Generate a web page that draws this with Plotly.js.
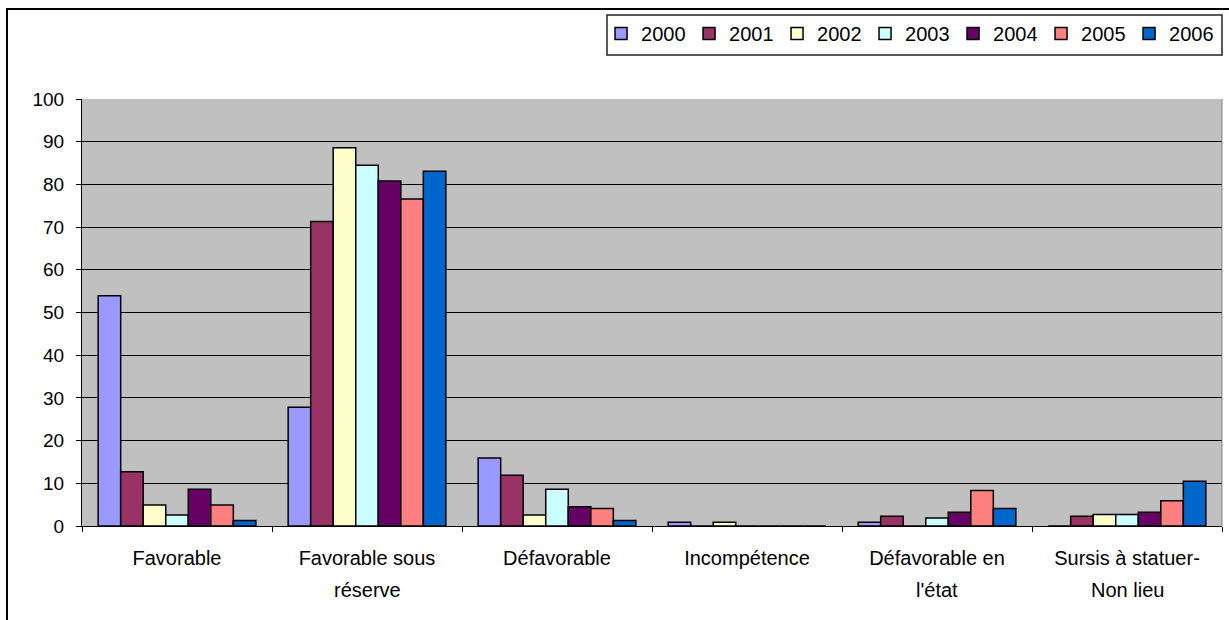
<!DOCTYPE html>
<html><head><meta charset="utf-8">
<script src="https://cdn.plot.ly/plotly-3.0.1.min.js"></script>
<style>html,body{margin:0;padding:0;background:#fff;}#chart{width:1229px;height:620px;}</style>
</head><body><div id="chart"></div>
<script>
const categories = ["Favorable", "Favorable sous réserve", "Défavorable", "Incompétence", "Défavorable en l'état", "Sursis à statuer-Non lieu"];
const labelLine1 = ["Favorable", "Favorable sous", "Défavorable", "Incompétence", "Défavorable en", "Sursis à statuer-"];
const labelLine2 = ["", "réserve", "", "", "l'état", "Non lieu"];
const years = ["2000", "2001", "2002", "2003", "2004", "2005", "2006"];
const v2000 = [53.9, 27.8, 15.9, 0.9, 0.9, 0];
const v2001 = [12.7, 71.3, 11.9, 0, 2.3, 2.3];
const v2002 = [4.9, 88.6, 2.6, 0.9, 0, 2.7];
const v2003 = [2.6, 84.5, 8.6, 0, 1.9, 2.7];
const v2004 = [8.6, 80.8, 4.5, 0, 3.2, 3.2];
const v2005 = [4.9, 76.6, 4.1, 0, 8.3, 5.9];
const v2006 = [1.3, 83.1, 1.3, 0, 4.1, 10.5];
const series = [v2000, v2001, v2002, v2003, v2004, v2005, v2006];
const colors = ["#9999FF", "#993366", "#FFFFCC", "#CCFFFF", "#660066", "#FF8080", "#0066CC"];

const traces = years.map((y, i) => ({
  type: "bar", name: y, x: categories, y: series[i],
  marker: {color: colors[i], line: {color: "#000", width: 1.5}},
  hoverinfo: "x+y+name"
}));

const fam = "Liberation Sans, Arial, sans-serif";
const xfont = {family: fam, size: 20, color: "#000"};
const yfont = {family: fam, size: 19, color: "#000"};
const lfont = {family: fam, size: 20, color: "#000"};
const annotations = categories.map((c, i) => labelLine2[i] ? ({
  x: c, xref: "x", y: -0.15, yref: "paper", yanchor: "middle",
  text: labelLine2[i], showarrow: false, font: xfont
}) : null).filter(a => a);

const layout = {
  width: 1229, height: 620,
  margin: {l: 82, r: 7, t: 99, b: 94},
  paper_bgcolor: "#fff", plot_bgcolor: "#C0C0C0",
  font: xfont,
  barmode: "group", bargap: 0.17, bargroupgap: 0,
  showlegend: true,
  legend: {orientation: "h", x: 0.4553, xanchor: "left", y: 1.199, yanchor: "top",
    bgcolor: "rgba(0,0,0,0)", borderwidth: 0, font: lfont,
    entrywidth: 43, entrywidthmode: "pixels", traceorder: "normal"},
  xaxis: {type: "category", tickmode: "array", tickvals: categories, ticktext: labelLine1,
    tickson: "boundaries", ticks: "outside", ticklen: 5, tickcolor: "#000",
    showline: true, linecolor: "#000", linewidth: 1, showgrid: false,
    ticklabelstandoff: 14, tickfont: xfont, fixedrange: true},
  yaxis: {range: [0, 100], tickmode: "linear", tick0: 0, dtick: 10,
    ticks: "outside", ticklen: 5, tickcolor: "#000",
    showline: true, linecolor: "#000", linewidth: 1,
    showgrid: true, gridcolor: "#000", gridwidth: 1, zeroline: false,
    ticklabelstandoff: 8, tickfont: yfont, fixedrange: true},
  annotations: annotations,
  shapes: [
    {type: "rect", xref: "paper", yref: "paper",
      x0: -0.0658, x1: 1.0088, y0: -0.2319, y1: 1.2108,
      line: {color: "#000", width: 2}, fillcolor: "rgba(0,0,0,0)", layer: "above"},
    {type: "rect", xref: "paper", yref: "paper",
      x0: (607 - 82) / 1140, x1: (1222 - 82) / 1140, y0: (526 - 55) / 427, y1: (526 - 15) / 427,
      line: {color: "#222", width: 1.5}, fillcolor: "rgba(0,0,0,0)", layer: "above"},
    {type: "line", xref: "paper", yref: "paper", x0: 1, x1: 1, y0: 0, y1: 1,
      line: {color: "#808080", width: 1}, layer: "above"}
  ]
};
Plotly.newPlot("chart", traces, layout, {displayModeBar: false, staticPlot: true});
</script></body></html>
